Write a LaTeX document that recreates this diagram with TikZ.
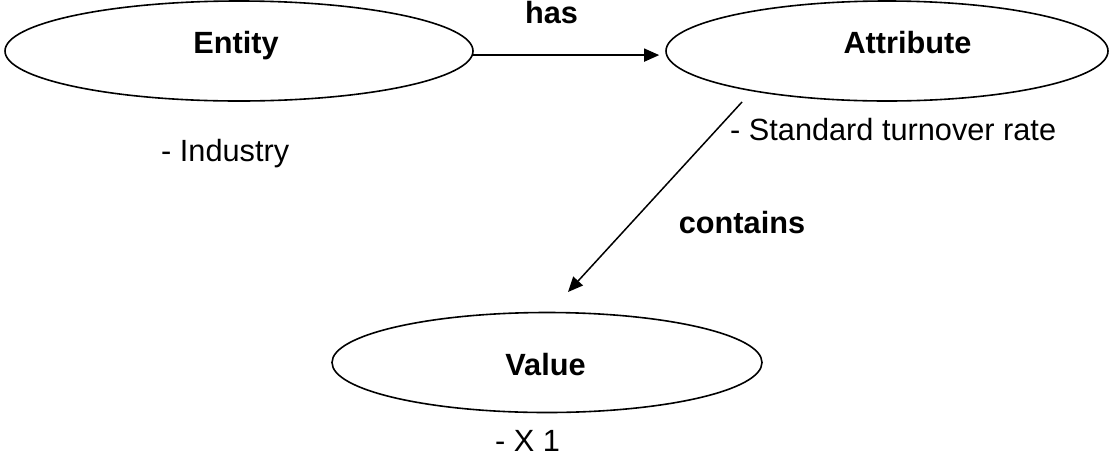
\documentclass[tikz,border=0pt]{standalone}
\usepackage{fontspec}
\setmainfont{Liberation Sans}
\usetikzlibrary{shapes.geometric,arrows.meta}

\begin{document}
\begin{tikzpicture}[x=1pt,y=-1pt,
  every node/.style={font=\fontsize{30.7}{36}\selectfont},
  concept/.style={ellipse,draw=black,line width=1.6pt,inner sep=0pt,minimum height=100pt},
  title/.style={font=\fontsize{30.7}{36}\selectfont\bfseries,anchor=base,inner sep=0pt},
  item/.style={anchor=base west,inner sep=0pt},
  link/.style={line width=1.5pt,-{Triangle[length=15pt,width=13pt]}}]
\useasboundingbox (0,0) rectangle (1111,456);

% the three concepts
\node[concept,minimum width=468pt] (ent) at (239,51) {};
\node[concept,minimum width=442pt] (att) at (887,51) {};
\node[concept,minimum width=430pt] (val) at (547,362.5) {};

\node[title] (entlbl) at (236,53) {Entity};
\node[title] (attlbl) at (907.5,53) {Attribute};
\node[title] (vallbl) at (545.5,375) {Value};

% examples under each concept
\node[item] (entex) at (161,161) {- Industry};
\node[item] (attex) at (730,140) {- Standard turnover rate};
\node[item] (valex) at (495,451) {- X 1};

% relations
\draw[link] (ent.-1.1) -- ([xshift=-6pt]ent.-1.1 -| att.west);
\node[title] (haslbl) at (551.5,23) {has};

\coordinate (attfoot) at (742,102);
\coordinate (valtop) at (568,292);
\draw[link] (attfoot) -- (valtop);
\node[title] (conlbl) at (742,233) {contains};
\end{tikzpicture}
\end{document}
